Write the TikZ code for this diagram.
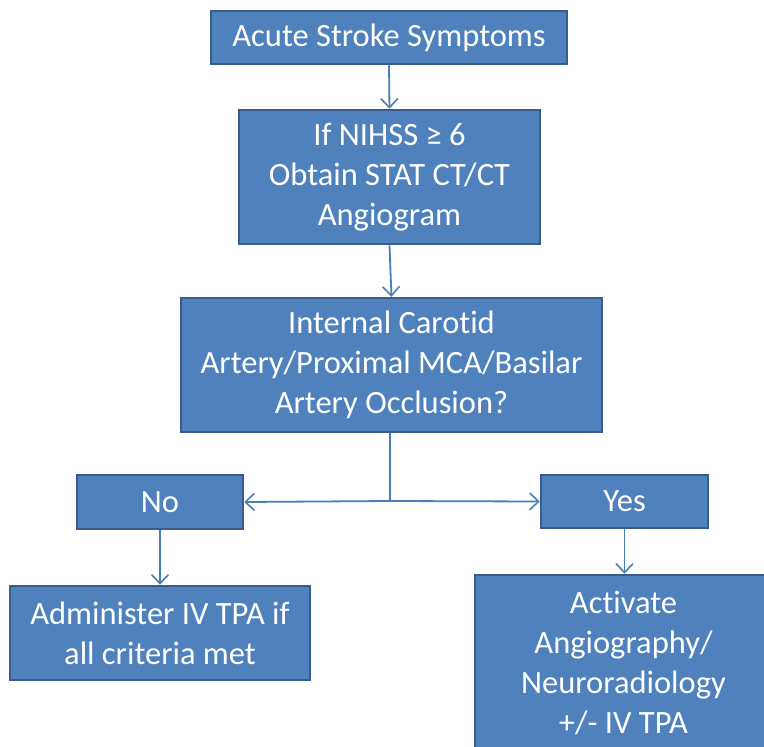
\documentclass[tikz,border=0pt]{standalone}
\usepackage{fontspec}
\setmainfont{Carlito}[Ligatures=NoCommon]
\usetikzlibrary{arrows.meta}
\definecolor{boxfill}{HTML}{4F81BD}
\definecolor{boxline}{HTML}{385D8A}
\definecolor{arrowc}{HTML}{4A7EBB}
\tikzset{
  fbox/.style={draw=boxline, line width=2.5pt, fill=boxfill, text=white, align=center,
    font=\fontsize{32.5}{40}\selectfont, inner sep=0pt},
  boxtext/.style={text=white, align=center, font=\fontsize{32.5}{40}\selectfont, inner sep=0pt},
  conn/.style={draw=arrowc, line width=1.8pt, -{Straight Barb[length=9pt,width=17pt,line width=1.6pt]}},
  plainconn/.style={draw=arrowc, line width=1.8pt}
}
\begin{document}
\begin{tikzpicture}[x=1pt,y=-1pt]
\useasboundingbox (0,0) rectangle (764,747);
\clip (0,0) rectangle (764,747);
\node[fbox, minimum width=356pt, minimum height=53pt] (a) at (389,37.5) {Acute Stroke Symptoms};
\node[fbox, minimum width=301pt, minimum height=134pt] (b) at (389.5,177) {If NIHSS ≥ 6\\Obtain STAT CT/CT\\Angiogram};
\node[fbox, minimum width=421pt, minimum height=134pt] (c) at (391.5,365) {Internal Carotid\\Artery/Proximal MCA/Basilar\\Artery Occlusion?};
\node[fbox, minimum width=166pt, minimum height=54pt] (no) at (160,502) {No};
\node[fbox, minimum width=167pt, minimum height=53pt] (yes) at (624.5,501.5) {Yes};
\node[fbox, minimum width=300pt, minimum height=94pt] (adm) at (160,633) {Administer IV TPA if\\all criteria met};
\node[fbox, minimum width=300pt, minimum height=180pt] (act) at (625,665) {};
\node[boxtext] (actt) at (623.5,663) {Activate\\Angiography/\\Neuroradiology\\+/- IV TPA};
\coordinate (j) at (390,501);
\draw[conn] (a.south) -- (b.north);
\draw[conn] (b.south) -- (c.north);
\draw[plainconn] (c.south -| j) -- (j);
\draw[conn] (j) -- (no.east);
\draw[conn] (j) -- (yes.west);
\draw[conn] (no.south) -- (adm.north);
\draw[conn] (yes.south) -- (yes.south |- act.north);
\end{tikzpicture}
\end{document}
